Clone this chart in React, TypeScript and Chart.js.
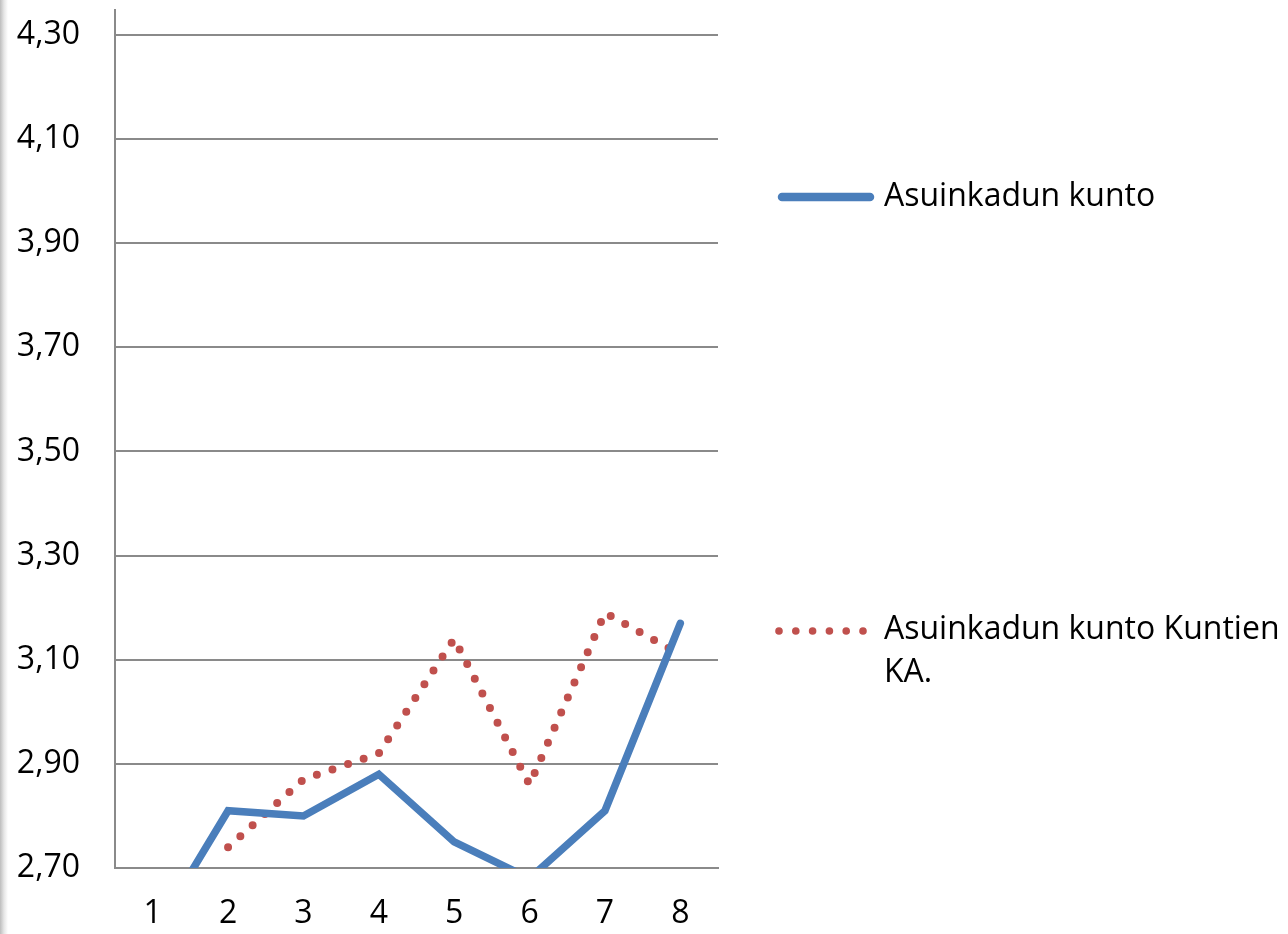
import React, { useEffect, useRef } from "react";
import { Chart, registerables } from "chart.js";

Chart.register(...registerables);

const categories = ["1", "2", "3", "4", "5", "6", "7", "8"];
const seriesStreet = [2.57, 2.81, 2.8, 2.88, 2.75, 2.68, 2.81, 3.17];
const seriesAverage = [null, 2.74, 2.87, 2.92, 3.14, 2.86, 3.19, 3.11];
const yTickValues = [2.7, 2.9, 3.1, 3.3, 3.5, 3.7, 3.9, 4.1, 4.3];
const legendLabels = ["Asuinkadun kunto", "Asuinkadun kunto Kuntien KA."];

const FONT = "'Open Sans', 'Noto Sans', sans-serif";
const FONT_SIZE = 32;
const GRID = "#8a8a8a";

const legendPlugin = {
  id: "customLegend",
  afterDraw(chart: any) {
    const ctx = chart.ctx;
    const ds = chart.data.datasets;
    ctx.save();
    ctx.strokeStyle = ds[0].borderColor;
    ctx.lineWidth = 8.5;
    ctx.lineCap = "round";
    ctx.beginPath();
    ctx.moveTo(782, 197);
    ctx.lineTo(870, 197);
    ctx.stroke();
    ctx.fillStyle = ds[1].borderColor;
    for (let i = 0; i < 6; i++) {
      ctx.beginPath();
      ctx.arc(779 + i * 16.8, 631, 3.8, 0, Math.PI * 2);
      ctx.fill();
    }
    ctx.fillStyle = "#000";
    ctx.font = `${FONT_SIZE}px ${FONT}`;
    ctx.textBaseline = "middle";
    ctx.textAlign = "left";
    ctx.fillText(legendLabels[0], 884, 197);
    const words = legendLabels[1].split(" ");
    ctx.fillText(words.slice(0, 3).join(" "), 884, 630);
    ctx.fillText(words.slice(3).join(" "), 884, 673);
    ctx.restore();
  },
};

export default function App() {
  const ref = useRef<HTMLCanvasElement | null>(null);

  useEffect(() => {
    if (!ref.current) return;
    const chart = new Chart(ref.current, {
      type: "line",
      data: {
        labels: categories,
        datasets: [
          {
            label: legendLabels[0],
            data: seriesStreet,
            borderColor: "#4a7ebb",
            borderWidth: 7.5,
            borderCapStyle: "round",
            borderJoinStyle: "miter",
            pointRadius: 0,
            tension: 0,
            clip: 0,
          } as any,
          {
            label: legendLabels[1],
            data: seriesAverage,
            borderColor: "#c0504d",
            borderWidth: 8,
            borderDash: [0, 16.5],
            borderCapStyle: "round",
            borderJoinStyle: "round",
            pointRadius: 0,
            tension: 0,
            clip: 0,
          } as any,
        ],
      },
      options: {
        animation: false,
        responsive: false,
        devicePixelRatio: 1,
        layout: { padding: { top: 10, left: 0, right: 570, bottom: 0 } },
        plugins: { legend: { display: false }, tooltip: { enabled: false } },
        scales: {
          x: {
            type: "category",
            offset: true,
            grid: { display: false, drawTicks: false },
            border: { color: GRID, width: 2 },
            ticks: {
              color: "#000",
              font: { family: FONT, size: FONT_SIZE },
              padding: 27,
              maxRotation: 0,
            },
            afterFit(scale: any) {
              scale.height = 66;
              scale.paddingLeft = 0;
              scale.paddingRight = 0;
            },
          },
          y: {
            min: 2.7,
            max: 4.348,
            grid: { color: GRID, lineWidth: 2, drawTicks: false },
            border: { color: GRID, width: 2 },
            ticks: {
              color: "#000",
              font: { family: FONT, size: FONT_SIZE },
              padding: 35,
              callback: (v: any) => Number(v).toFixed(2).replace(".", ","),
            },
            afterBuildTicks(scale: any) {
              scale.ticks = yTickValues.map((v) => ({ value: v }));
            },
            afterFit(scale: any) {
              scale.width = 115;
              scale.paddingTop = 0;
              scale.paddingBottom = 0;
            },
          },
        },
      },
      plugins: [legendPlugin],
    });
    return () => chart.destroy();
  }, []);

  return (
    <div style={{ position: "absolute", left: 0, top: 0, width: 1288, height: 934, background: "#fff" }}>
      <div
        style={{
          position: "absolute",
          left: 0,
          top: 0,
          width: 8,
          height: 934,
          background: "linear-gradient(to right, #bdbdbd, #e6e6e6 50%, #ffffff)",
        }}
      />
      <canvas ref={ref} width={1288} height={934} style={{ position: "absolute", left: 0, top: 0 }} />
    </div>
  );
}
